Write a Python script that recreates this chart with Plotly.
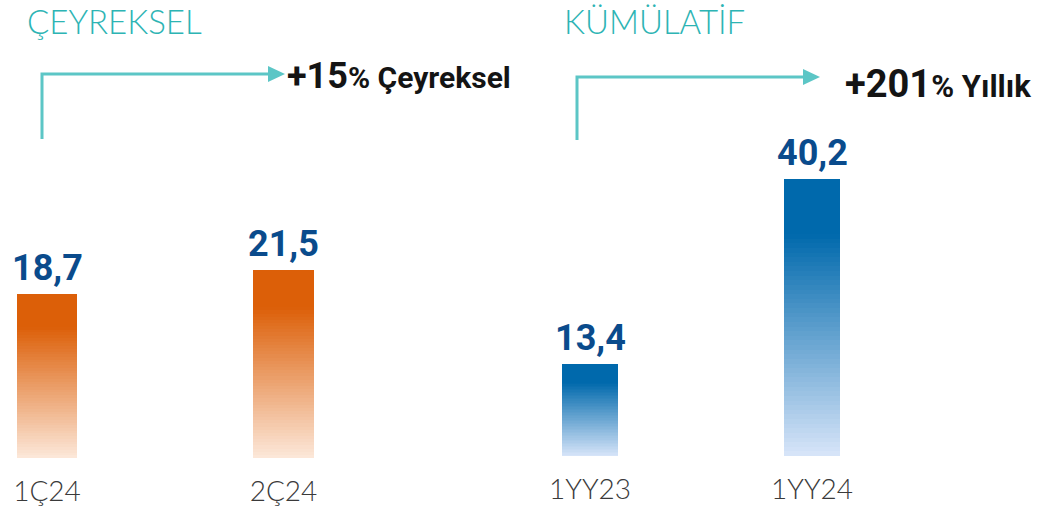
import plotly.graph_objects as go

# ---------------- data ----------------
quarter_cats = ["1Ç24", "2Ç24"]
quarter_vals = [18.7, 21.5]
quarter_text = ["18,7", "21,5"]

cum_cats = ["1YY23", "1YY24"]
cum_vals = [13.4, 40.2]
cum_text = ["13,4", "40,2"]

titles = ["ÇEYREKSEL", "KÜMÜLATİF"]
growth_big = ["+15", "+201"]
growth_small = ["% Çeyreksel", "% Yıllık"]

# ---------------- styling ----------------
W, H = 1039, 514
OFF = 0  # body margin removed via post_script
ORANGE_DARK = (220, 95, 8)
ORANGE_LIGHT = (252, 232, 218)
BLUE_DARK = (0, 105, 172)
BLUE_LIGHT = (216, 229, 249)
TEAL = "#5CC6C6"
TITLE_TEAL = "#2DB4B4"
VALUE_BLUE = "#0A4B8C"
N_SEG = 60


def px(x):
    return (x - OFF) / W


def py(y):
    return 1 - (y - OFF) / H


def grad(dark, light, f):
    t = min(1.0, f / 0.8)
    c = [round(l + (d - l) * t) for d, l in zip(dark, light)]
    return "rgb({},{},{})".format(*c)


fig = go.Figure()


def add_gradient_bars(cats, vals, dark, light, xa, ya, width):
    for k in range(N_SEG):
        f = (k + 0.5) / N_SEG
        fig.add_trace(go.Bar(
            x=cats, y=[v / N_SEG for v in vals],
            marker=dict(color=grad(dark, light, f), line=dict(width=0)),
            width=width, xaxis=xa, yaxis=ya,
            showlegend=False, hoverinfo="skip"))


add_gradient_bars(quarter_cats, quarter_vals, ORANGE_DARK, ORANGE_LIGHT, "x", "y", 0.254)
add_gradient_bars(cum_cats, cum_vals, BLUE_DARK, BLUE_LIGHT, "x2", "y2", 0.252)

# value labels above bars
label_font = dict(family="Roboto", size=36, color=VALUE_BLUE, weight="bold")
for cats, vals, texts, xr, yr in [(quarter_cats, quarter_vals, quarter_text, "x", "y"),
                                  (cum_cats, cum_vals, cum_text, "x2", "y2")]:
    for c, v, t in zip(cats, vals, texts):
        fig.add_annotation(x=c, y=v, text=t, xref=xr, yref=yr, showarrow=False,
                           xanchor="center", yanchor="bottom", yshift=3, font=label_font)

tick_font = dict(family="Lato", size=28, color="#3A3A3A", weight=300)
axis_common = dict(type="category", showgrid=False, zeroline=False, showline=False,
                   ticks="", tickfont=tick_font, automargin=False, fixedrange=True)

base_left = 458 - OFF
base_right = 456 - OFF
fig.update_layout(
    width=W, height=H,
    margin=dict(l=0, r=0, t=0, b=0),
    paper_bgcolor="white", plot_bgcolor="white",
    barmode="stack",
    showlegend=False,
    xaxis=dict(domain=[0, 0.5], range=[-(47 - OFF) / 236.5, -(47 - OFF) / 236.5 + (W / 2) / 236.5],
               anchor="y", ticklabelstandoff=14, **axis_common),
    yaxis=dict(domain=[(H - base_left) / H, 1], range=[0, base_left / 8.76],
               visible=False, fixedrange=True),
    xaxis2=dict(domain=[0.5, 1],
                range=[-(590 - OFF - W / 2) / 222, -(590 - OFF - W / 2) / 222 + (W / 2) / 222],
                anchor="y2", ticklabelstandoff=14, **axis_common),
    yaxis2=dict(domain=[(H - base_right) / H, 1], range=[0, base_right / 6.9],
                visible=False, fixedrange=True),
)

# elbow arrows
arrows = [
    dict(x0=42, y0=139, y1=74, x1=269, tip=285, half=8),
    dict(x0=577, y0=140, y1=77, x1=804, tip=820, half=8),
]
for a in arrows:
    fig.add_shape(type="path", xref="paper", yref="paper",
                  path=f"M {px(a['x0'])},{py(a['y0'])} L {px(a['x0'])},{py(a['y1'])} L {px(a['x1'])},{py(a['y1'])}",
                  line=dict(color=TEAL, width=3))
    fig.add_shape(type="path", xref="paper", yref="paper",
                  path=(f"M {px(a['x1'] - 1)},{py(a['y1'] - a['half'])} L {px(a['tip'])},{py(a['y1'])} "
                        f"L {px(a['x1'] - 1)},{py(a['y1'] + a['half'])} Z"),
                  fillcolor=TEAL, line=dict(width=0))

# section titles
for t, x in zip(titles, [26, 563]):
    fig.add_annotation(text=t, xref="paper", yref="paper", x=px(x), y=1,
                       xanchor="left", yanchor="top", showarrow=False, borderpad=0,
                       font=dict(family="Lato", size=33, color=TITLE_TEAL, weight=300))

# growth texts
for big, small, x, y, bs, ss in zip(growth_big, growth_small, [285, 843], [76, 84], [36, 38], [30, 31]):
    fig.add_annotation(
        text=f"<b>{big}</b><b><span style='font-size:{ss}px'>{small}</span></b>",
        xref="paper", yref="paper", x=px(x), y=py(y),
        xanchor="left", yanchor="middle", showarrow=False,
        font=dict(family="Roboto", size=bs, color="#141414"))

fig.write_html("out.html", config={"displayModeBar": False},
               post_script="document.body.style.margin='0';document.body.style.overflow='hidden';")
